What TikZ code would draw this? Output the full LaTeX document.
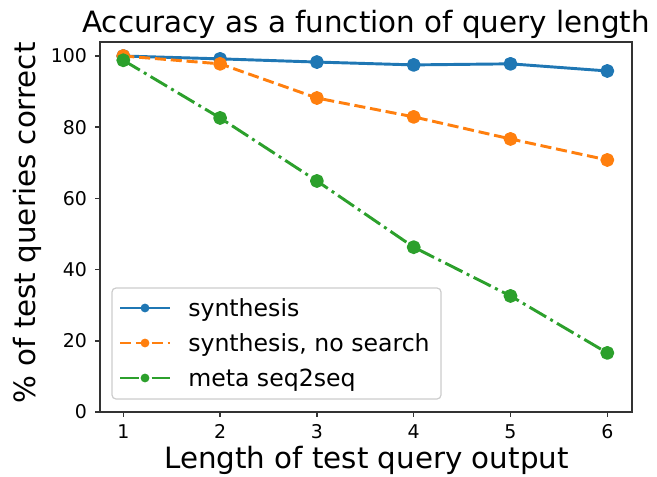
\documentclass[tikz,border=0pt]{standalone}
\usepackage{fontspec}
\setmainfont{DejaVu Sans}
\definecolor{tabblue}{HTML}{1F77B4}
\definecolor{taborange}{HTML}{FF7F0E}
\definecolor{tabgreen}{HTML}{2CA02C}
\begin{document}
\begin{tikzpicture}[x=0.75pt,y=-0.75pt,
  series/.style={line width=2.2pt, line join=round, mark=*, mark size=4.1pt, mark options={solid}},
  solidseries/.style={series, tabblue},
  dashseries/.style={series, taborange, dash pattern=on 8.3pt off 3.6pt},
  dashdotseries/.style={series, tabgreen, dash pattern=on 14.4pt off 3.6pt on 2.2pt off 3.6pt},
  legline/.style={line width=2.2pt},
  frame/.style={draw=black!80, line width=1.1pt},
  ticklab/.style={inner sep=0pt, font=\fontsize{14.2}{17}\selectfont},
  biglab/.style={inner sep=0pt, font=\fontsize{22}{26}\selectfont},
  legtext/.style={inner sep=0pt, anchor=base west, font=\fontsize{17.7}{21}\selectfont},
  legbox/.style={draw=black!20, fill=white, fill opacity=0.8, line width=0.9pt, rounded corners=3pt}
]
\useasboundingbox (0,0) rectangle (657,476);

% title and axis labels
\node[biglab, anchor=base] (title) at (366,32) {Accuracy as a function of query length};
\node[biglab, anchor=base] (xlabel) at (366.5,468) {Length of test query output};
\node[biglab, anchor=base, rotate=90] (ylabel) at (35,223) {\% of test queries correct};

% data area: x from 0.759 to 6.255, y from 0 to 103.9
\begin{scope}[shift={(26.5,412)}, x=72.6pt, y=2.67pt]
  \coordinate (ll) at (0.759,0);
  \coordinate (ur) at (6.255,103.93);

  % ticks and tick labels
  \foreach \i in {1,...,6} {
    \draw[black!80, line width=1.1pt] (\i,0) -- ++(0pt,-3.9pt);
    \node[ticklab, anchor=base] (xt\i) at ([yshift=-19.5pt]\i,0) {\i};
  }
  \foreach \v in {0,20,...,100} {
    \draw[black!80, line width=1.1pt] (0.759,\v) -- ++(-3.9pt,0pt);
    \node[ticklab, anchor=east] (yt\v) at ([xshift=-9.5pt]0.759,\v) {\v};
  }

  % series
  \draw[solidseries] plot coordinates {(1,100) (2,99.2) (3,98.3) (4,97.5) (5,97.8) (6,95.8)};
  \draw[dashseries] plot coordinates {(1,100) (2,97.8) (3,88.2) (4,82.9) (5,76.7) (6,70.8)};
  \draw[dashdotseries] plot coordinates {(1,98.8) (2,82.6) (3,64.9) (4,46.3) (5,32.6) (6,16.6)};

  % axes frame
  \draw[frame] (ll) rectangle (ur);
\end{scope}

% legend
\draw[legbox] (112,288) rectangle (441,399);
\coordinate (la1) at (120,308); \coordinate (lb1) at (170,308);
\coordinate (la2) at (120,343); \coordinate (lb2) at (170,343);
\coordinate (la3) at (120,378); \coordinate (lb3) at (170,378);
\draw[legline, tabblue] (la1) -- (lb1);
\fill[tabblue] (145,308) circle (3.3pt);
\draw[legline, taborange, dash pattern=on 8.3pt off 3.6pt] (la2) -- (lb2);
\fill[taborange] (145,343) circle (3.3pt);
\draw[legline, tabgreen, dash pattern=on 14.4pt off 3.6pt on 2.2pt off 3.6pt] (la3) -- (lb3);
\fill[tabgreen] (145,378) circle (3.3pt);
\node[legtext] (leg1) at (188,316) {synthesis};
\node[legtext] (leg2) at (188,351) {synthesis, no search};
\node[legtext] (leg3) at (188,386) {meta seq2seq};
\end{tikzpicture}
\end{document}
